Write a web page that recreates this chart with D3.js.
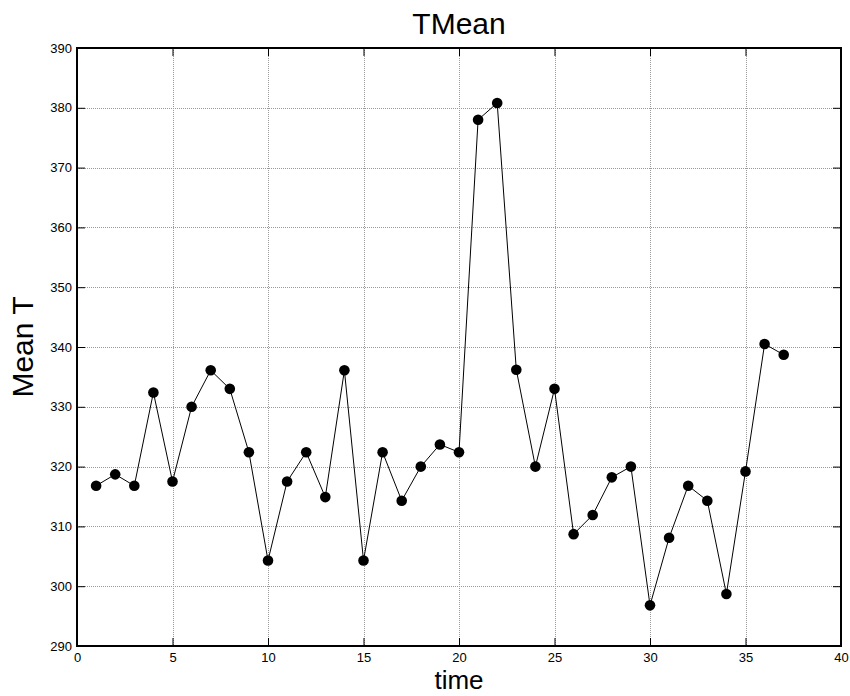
<!DOCTYPE html>
<html>
<head>
<meta charset="utf-8">
<script src="https://cdn.jsdelivr.net/npm/d3@7"></script>
<style>
  body { margin: 0; background: #fff; }
  svg { display: block; }
  text { font-family: Arial, "Liberation Sans", sans-serif; fill: #000; }
</style>
</head>
<body>
<svg id="chart" width="850" height="696"></svg>
<script>
const title = "TMean";
const xLabel = "time";
const yLabel = "Mean T";
const times = [1,2,3,4,5,6,7,8,9,10,11,12,13,14,15,16,17,18,19,20,21,22,23,24,25,26,27,28,29,30,31,32,33,34,35,36,37];
const meanT = [316.8,318.7,316.8,332.4,317.5,330.0,336.1,333.0,322.4,304.3,317.5,322.4,314.9,336.1,304.3,322.4,314.3,320.0,323.7,322.4,
               378.0,380.8,336.2,320.0,333.0,308.7,311.9,318.2,320.0,296.8,308.1,316.8,314.3,298.7,319.2,340.5,338.7];
const xTicks = [0,5,10,15,20,25,30,35,40];
const yTicks = [290,300,310,320,330,340,350,360,370,380,390];

const svg = d3.select("#chart");
const L = 77, R = 841, T = 48, B = 646;
const x = d3.scaleLinear().domain([0, 40]).range([L, R]);
const y = d3.scaleLinear().domain([290, 390]).range([B, T]);

// grid
const grid = svg.append("g").attr("stroke", "#9a9a9a").attr("stroke-width", 1).attr("stroke-dasharray", "1,1");
grid.selectAll("line.v").data(xTicks.slice(1, -1)).join("line")
  .attr("x1", d => Math.round(x(d)) + 0.5).attr("x2", d => Math.round(x(d)) + 0.5)
  .attr("y1", T).attr("y2", B);
grid.selectAll("line.h").data(yTicks.slice(1, -1)).join("line")
  .attr("y1", d => Math.round(y(d)) + 0.5).attr("y2", d => Math.round(y(d)) + 0.5)
  .attr("x1", L).attr("x2", R);

// axes
const tickLen = 8;
const fmt = d3.format("d");
const ax = svg.append("g").attr("transform", `translate(0,${B})`)
  .call(d3.axisBottom(x).tickValues(xTicks).tickFormat(fmt).tickSizeInner(-tickLen).tickSizeOuter(0).tickPadding(7));
const axTop = svg.append("g").attr("transform", `translate(0,${T})`)
  .call(d3.axisTop(x).tickValues(xTicks).tickFormat("").tickSizeInner(-tickLen).tickSizeOuter(0));
const ay = svg.append("g").attr("transform", `translate(${L},0)`)
  .call(d3.axisLeft(y).tickValues(yTicks).tickFormat(fmt).tickSizeInner(-tickLen).tickSizeOuter(0).tickPadding(5));
const ayR = svg.append("g").attr("transform", `translate(${R},0)`)
  .call(d3.axisRight(y).tickValues(yTicks).tickFormat("").tickSizeInner(-tickLen).tickSizeOuter(0));
[ax, axTop, ay, ayR].forEach(g => {
  g.select(".domain").remove();
  g.selectAll(".tick line").attr("stroke", "#000").attr("stroke-width", 1);
  g.selectAll(".tick text").attr("font-size", 13).attr("fill", "#000")
    .style("font-family", "Arial, 'Liberation Sans', sans-serif");
});

// box
svg.append("rect").attr("x", L).attr("y", T).attr("width", R - L).attr("height", B - T)
  .attr("fill", "none").attr("stroke", "#000").attr("stroke-width", 2);

// line + markers
const pts = times.map((t, i) => [t, meanT[i]]);
svg.append("path").datum(pts)
  .attr("fill", "none").attr("stroke", "#000").attr("stroke-width", 1)
  .attr("d", d3.line().x(d => x(d[0])).y(d => y(d[1])));
svg.append("g").selectAll("circle").data(pts).join("circle")
  .attr("cx", d => x(d[0])).attr("cy", d => y(d[1])).attr("r", 5.3).attr("fill", "#000");

// texts
svg.append("text").attr("x", (L + R) / 2).attr("y", 34).attr("text-anchor", "middle")
  .attr("font-size", 30).text(title);
svg.append("text").attr("x", (L + R) / 2).attr("y", 689).attr("text-anchor", "middle")
  .attr("font-size", 26).text(xLabel);
svg.append("text").attr("transform", `translate(33,${(T + B) / 2}) rotate(-90)`).attr("text-anchor", "middle")
  .attr("font-size", 30).text(yLabel);
</script>
</body>
</html>
